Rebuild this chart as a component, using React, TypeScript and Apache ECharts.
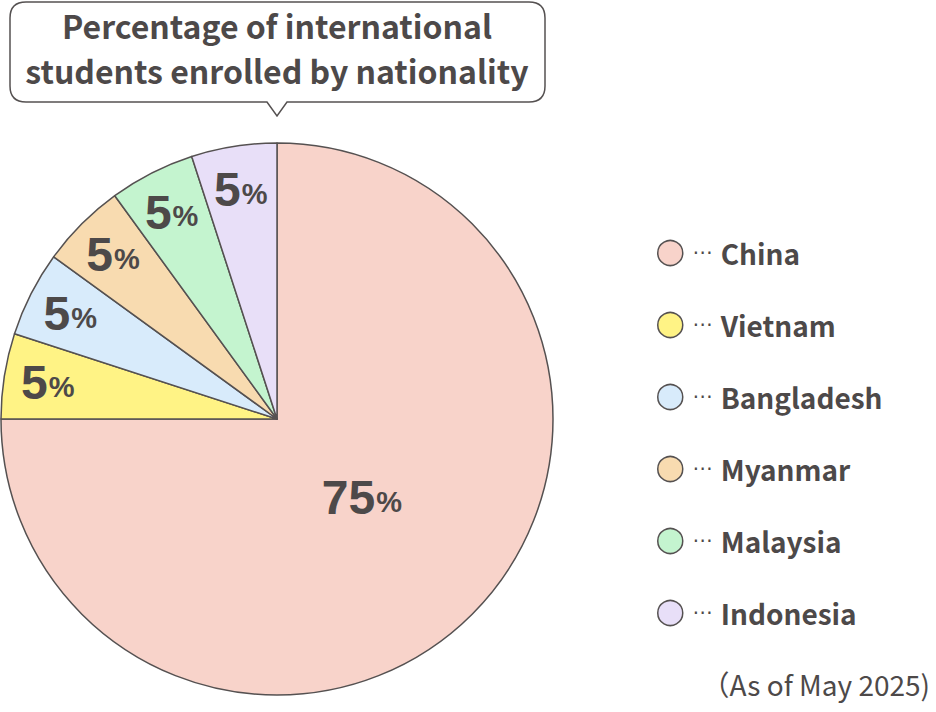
import React, { useEffect, useRef } from "react";
import * as echarts from "echarts";

const countries = ["China", "Vietnam", "Bangladesh", "Myanmar", "Malaysia", "Indonesia"];
const percents = [75, 5, 5, 5, 5, 5];
const colors = ["#f8d3ca", "#fff385", "#d8ebfb", "#f8dbb0", "#c4f4cf", "#e8dff8"];
const titleLines = ["Percentage of international", "students enrolled by nationality"];
const footnote = "（As of May 2025)";

const INK = "#4d4949";
const EDGE = "#555151";

const bubblePath =
  "M26 2 H529 Q545 2 545 18 V86 Q545 102 529 102 H287 L277 116 L267 102 H26 Q10 102 10 86 V18 Q10 2 26 2 Z";

export default function App() {
  const ref = useRef<HTMLDivElement>(null);
  useEffect(() => {
    if (!ref.current) return;
    echarts.graphic.registerShape("bubble", echarts.graphic.extendPath(bubblePath, {}));
    const chart = echarts.init(ref.current, undefined, { renderer: "svg" });

    const labelRich = {
      v: { fontFamily: "Liberation Sans", fontWeight: "bold", fontSize: 48, color: INK, lineHeight: 40 },
      p: { fontFamily: "Liberation Sans", fontWeight: "bold", fontSize: 29, color: INK, lineHeight: 40, padding: [8, 0, 0, 1] },
    };

    const baseData = countries.map((n, i) => ({
      name: n,
      value: percents[i],
      itemStyle: { color: colors[i] },
    }));

    const overlay = (radius: number, showIdx: (i: number) => boolean, offset: number[]) => ({
      type: "pie",
      center: [277, 419],
      radius: [0, radius],
      startAngle: 90,
      clockwise: true,
      silent: true,
      legendHoverLink: false,
      z: 5,
      itemStyle: { color: "rgba(0,0,0,0)", borderWidth: 0 },
      labelLine: { show: false },
      data: countries.map((n, i) => ({
        name: n,
        value: percents[i],
        itemStyle: { color: "rgba(0,0,0,0)", borderWidth: 0 },
        label: {
          show: showIdx(i),
          position: "inside",
          offset,
          formatter: "{v|{c}}{p|%}",
          rich: labelRich,
        },
      })),
    });

    chart.setOption({
      animation: false,
      backgroundColor: "#ffffff",
      legend: {
        orient: "vertical",
        left: 652,
        top: 234,
        itemWidth: 25,
        itemHeight: 25,
        itemGap: 44,
        icon: "circle",
        selectedMode: false,
        data: countries,
        itemStyle: { borderColor: EDGE, borderWidth: 1.5 },
        formatter: (name: string) => `{d|⋯}{n|${name}}`,
        textStyle: {
          rich: {
            d: { fontFamily: "DejaVu Sans", fontSize: 20, color: INK, padding: [0, 8, 2, 5] },
            n: { fontFamily: "Noto Sans CJK JP", fontWeight: "bold", fontSize: 28, color: INK },
          },
        },
      },
      graphic: [
        {
          type: "bubble",
          x: 0,
          y: 0,
          style: { fill: "#ffffff", stroke: EDGE, lineWidth: 1.5 },
          z: 1,
        },
        {
          type: "text",
          x: 277,
          y: 47,
          z: 2,
          style: {
            text: titleLines.join("\n"),
            fill: INK,
            font: "bold 32px 'Noto Sans CJK JP'",
            lineHeight: 45,
            align: "center",
            verticalAlign: "middle",
          },
        },
        {
          type: "text",
          right: 6,
          top: 670,
          z: 2,
          style: {
            text: footnote,
            fill: INK,
            font: "28px 'Noto Sans CJK JP'",
          },
        },
      ],
      series: [
        {
          type: "pie",
          center: [277, 419],
          radius: [0, 276],
          startAngle: 90,
          clockwise: true,
          z: 2,
          itemStyle: { borderColor: EDGE, borderWidth: 1.5 },
          label: { show: false },
          labelLine: { show: false },
          emphasis: { disabled: true },
          data: baseData,
        },
        overlay(234, (i) => i === 0, [0, -6]),
        overlay(458, (i) => i !== 0, [0, 0]),
      ],
    });
    return () => chart.dispose();
  }, []);
  return (
    <div
      ref={ref}
      style={{ position: "fixed", left: 0, top: 0, width: 936, height: 712 }}
    />
  );
}
